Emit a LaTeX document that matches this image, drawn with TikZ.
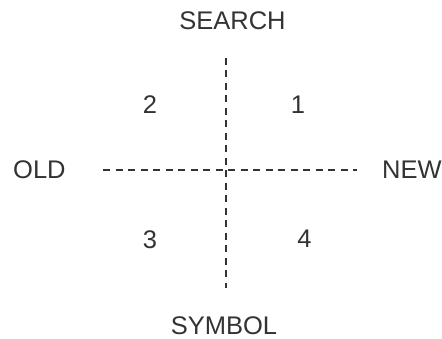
\documentclass[tikz,border=0pt]{standalone}
\usepackage{fontspec}
\setmainfont{Liberation Sans}
\usetikzlibrary{positioning}
\definecolor{axisgray}{HTML}{333333}

\begin{document}
\begin{tikzpicture}[x=1pt,y=-1pt,
    lbl/.style={font=\fontsize{25.5}{30}\selectfont,text=axisgray,inner sep=0pt},
    axisline/.style={draw=axisgray,line width=1.5pt,dash pattern=on 7pt off 5.5pt}]
  \useasboundingbox (0,0) rectangle (442,339);

  % ---- Axis ends ----
  \coordinate (top) at (226,58);
  \coordinate (bot) at (226,288);
  \coordinate (lft) at (103,170);
  \coordinate (rgt) at (357,170);

  % ---- Axis labels ----
  \node[lbl] (search) at (232.5,21) {SEARCH};
  \node[lbl] (symbol) at (224,326) {SYMBOL};
  \node[lbl,anchor=west] (old) at (13,170) {OLD};
  \node[lbl,anchor=west] (new) at (382,170) {NEW};

  % ---- Quadrant numbers ----
  \node[lbl] (q1) at (298,104.5) {1};
  \node[lbl] (q2) at (150,104.5) {2};
  \node[lbl] (q3) at (150,239.5) {3};
  \node[lbl] (q4) at (304.5,238.5) {4};

  % ---- Dashed axes ----
  \draw[axisline] (top) -- (bot);
  \draw[axisline] (lft) -- (rgt);

\end{tikzpicture}
\end{document}
